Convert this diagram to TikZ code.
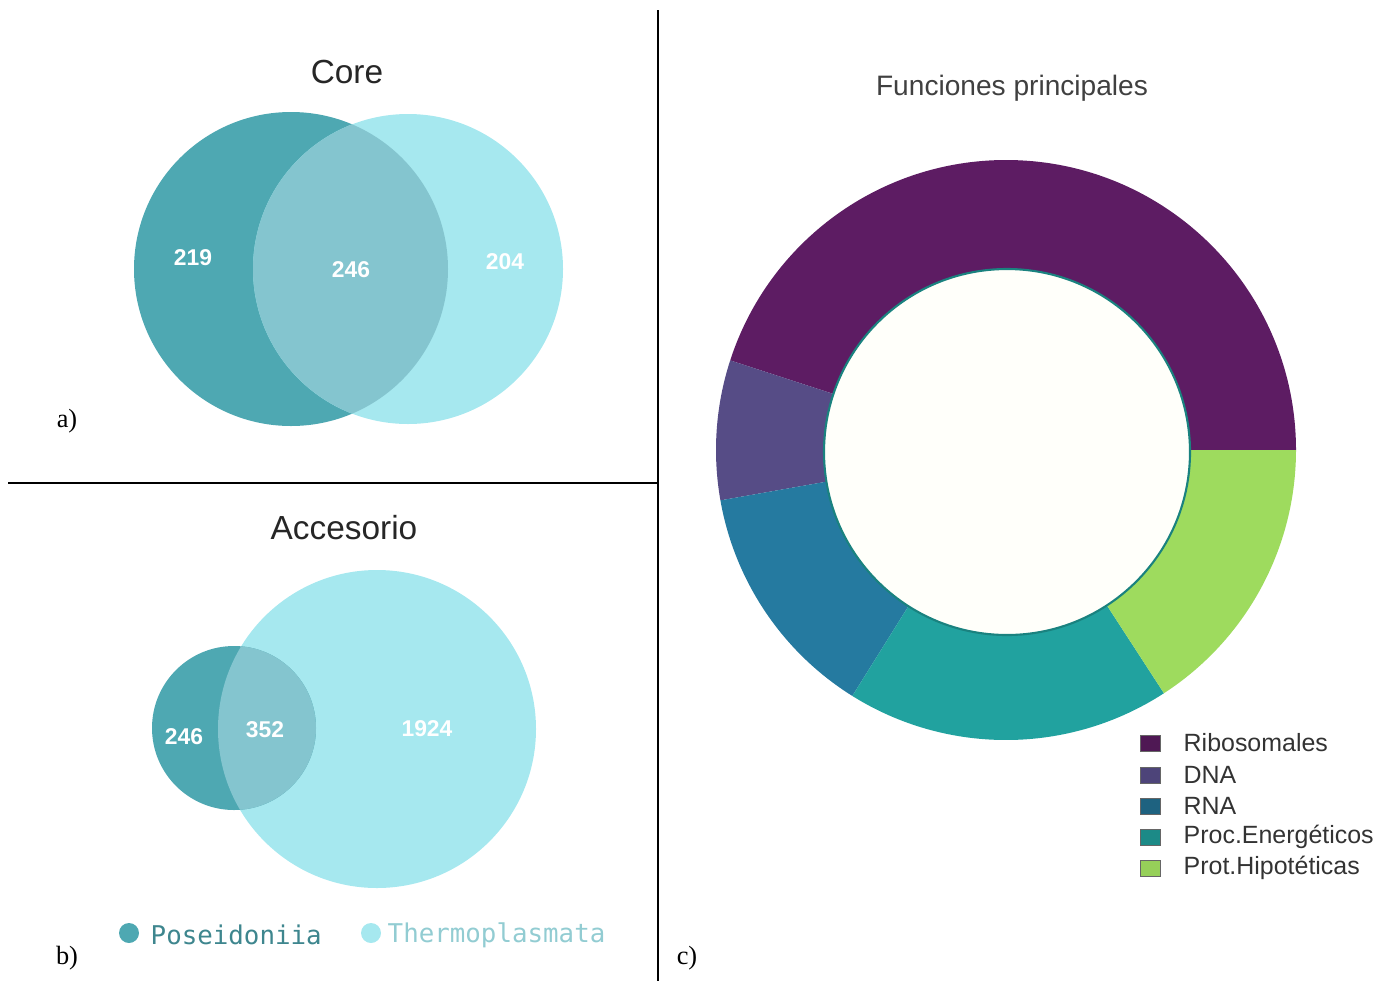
\documentclass[tikz,border=0pt]{standalone}
\usepackage{fontspec}
\setmainfont{Liberation Serif}
\setsansfont{Liberation Sans}
\setmonofont{DejaVu Sans Mono}
\usepackage{xcolor}
\usetikzlibrary{positioning}

\definecolor{poscol}{HTML}{4EA8B2}
\definecolor{thermcol}{HTML}{A6E8EF}
\definecolor{bothcol}{HTML}{84C5CF}
\definecolor{ribocol}{HTML}{5D1C63}
\definecolor{dnacol}{HTML}{564C86}
\definecolor{rnacol}{HTML}{257AA0}
\definecolor{proccol}{HTML}{21A29F}
\definecolor{protcol}{HTML}{9EDB5E}

\tikzset{
  title/.style={font=\sffamily\fontsize{19}{19}\selectfont,text=black!85},
  count/.style={font=\sffamily\bfseries\fontsize{13}{13}\selectfont,text=white},
  panel/.style={font=\rmfamily\fontsize{15}{15}\selectfont},
  keybox/.style={draw=black!60,line width=.4pt,minimum width=20*0.02cm,minimum height=16*0.02cm,inner sep=0pt},
  keytext/.style={font=\sffamily\fontsize{14.2}{14.2}\selectfont,text=black!80,inner sep=0pt,anchor=west}
}

\begin{document}
\begin{tikzpicture}[x=0.02cm,y=0.02cm]
\useasboundingbox (0,0) rectangle (1396,-981);

% panel lines
\draw [line width=1.1pt] (658,-10) -- (658,-981);
\draw [line width=1.1pt] (8,-483) -- (658,-483);

\node [panel] (pa) at (67,-421) {a)};
\node [panel] (pb) at (67,-958) {b)};
\node [panel] (pc) at (687,-958) {c)};

% a) core
\node [title] (core) at (347,-72) {Core};
\fill [poscol] (291,-269) circle [radius=157];
\fill [thermcol] (408,-269) circle [radius=155];
\begin{scope}
\clip (291,-269) circle [radius=157];
\fill [bothcol] (408,-269) circle [radius=155];
\end{scope}
\node [count] (c1) at (193,-258) {219};
\node [count] (c2) at (351,-270) {246};
\node [count] (c3) at (505,-262) {204};

% b) accesorio
\node [title] (acc) at (344,-528) {Accesorio};
\fill [thermcol] (377,-729) circle [radius=159];
\fill [poscol] (234,-728) circle [radius=82];
\begin{scope}
\clip (234,-728) circle [radius=82];
\fill [bothcol] (377,-729) circle [radius=159];
\end{scope}
\node [count] (a1) at (184,-737) {246};
\node [count] (a2) at (265,-730) {352};
\node [count] (a3) at (427,-729) {1924};

% species
\node [circle,fill=poscol,minimum size=20*0.02cm,inner sep=0pt] (posdot) at (129,-933) {};
\node [right=11*0.02cm of posdot,yshift=-2*0.02cm,inner sep=0pt,font=\ttfamily\fontsize{14.7}{14.7}\selectfont,text=poscol!80!black] (pos) {Poseidoniia};
\node [circle,fill=thermcol,minimum size=20*0.02cm,inner sep=0pt] (thdot) at (371,-933) {};
\node [right=6*0.02cm of thdot,yshift=-2*0.02cm,inner sep=0pt,font=\ttfamily\fontsize{14.7}{14.7}\selectfont,text=thermcol!88!black] (therm) {Thermoplasmata};

% c) funciones
\node [title,font=\sffamily\fontsize{16}{16}\selectfont,text=black!75] (func) at (1012,-88) {Funciones principales};
\coordinate (ctr) at (1006,-450);
\fill [ribocol] (ctr) -- ++(0:290) arc [start angle=0,end angle=162,radius=290] -- cycle;
\fill [dnacol] (ctr) -- ++(162:290) arc [start angle=162,end angle=190,radius=290] -- cycle;
\fill [rnacol] (ctr) -- ++(190:290) arc [start angle=190,end angle=238,radius=290] -- cycle;
\fill [proccol] (ctr) -- ++(238:290) arc [start angle=238,end angle=303,radius=290] -- cycle;
\fill [protcol] (ctr) -- ++(303:290) arc [start angle=303,end angle=360,radius=290] -- cycle;
\draw [fill=white!98!yellow,draw=proccol!80!black,line width=1.2pt] (1007,-452) circle [radius=183];

% legend
\node [keybox,fill=ribocol!85!black] (k1) at (1150,-743) {};
\node [keybox,fill=dnacol!90!black] (k2) at (1150,-775) {};
\node [keybox,fill=rnacol!80!black] (k3) at (1150,-806) {};
\node [keybox,fill=proccol!85!black] (k4) at (1150,-837) {};
\node [keybox,fill=protcol!95!black] (k5) at (1150,-868) {};
\node [keytext,right=23*0.02cm of k1] (t1) {Ribosomales};
\node [keytext,right=23*0.02cm of k2] (t2) {DNA};
\node [keytext,right=23*0.02cm of k3] (t3) {RNA};
\node [keytext,right=23*0.02cm of k4] (t4) {Proc.Energéticos};
\node [keytext,right=23*0.02cm of k5] (t5) {Prot.Hipotéticas};
\end{tikzpicture}
\end{document}
